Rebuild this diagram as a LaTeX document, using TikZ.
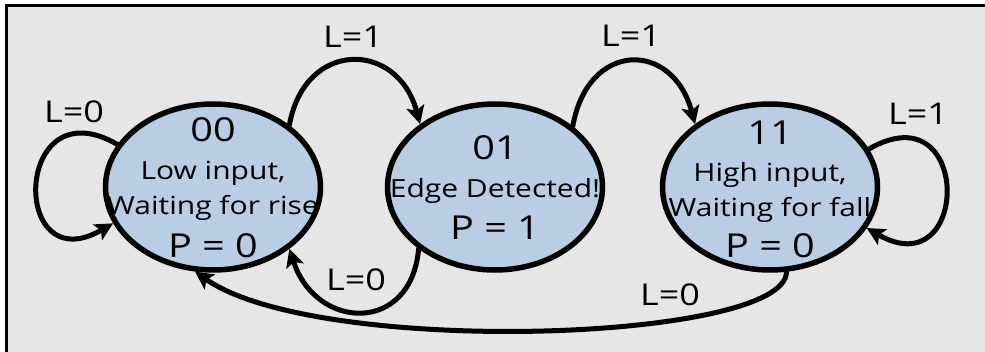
\documentclass[tikz,border=0pt]{standalone}
\usepackage{fontspec}
\setmainfont{Open Sans}[FakeStretch=1.2]
\usetikzlibrary{shapes.geometric,arrows.meta}
\definecolor{bgc}{RGB}{230,230,230}
\definecolor{statefill}{RGB}{185,205,228}
\tikzset{
  stateell/.style={ellipse, draw=black, line width=5.5pt, fill=statefill,
    minimum width=215pt, minimum height=166pt, inner sep=0pt},
  bigtxt/.style={font=\fontsize{33}{36}\selectfont, anchor=base, inner sep=0pt},
  smalltxt/.style={font=\fontsize{25}{28}\selectfont, anchor=base, inner sep=0pt},
  lbl/.style={font=\fontsize{30}{34}\selectfont, anchor=base, inner sep=0pt},
  trans/.style={line width=5pt, line cap=round,
    -{Stealth[length=18pt,width=18pt,inset=4pt]}},
}
\begin{document}
\begin{tikzpicture}[x=1pt,y=1pt]
\useasboundingbox (0,0) rectangle (985,351);
\clip (0,0) rectangle (985,351);
\fill[bgc] (5,-5) rectangle (990,347);
\draw[line width=3pt] (6.5,-10) -- (6.5,345.5) -- (995,345.5);

% states
\node[stateell] (s00) at (213,164) {};
\node[stateell] (s01) at (495,164) {};
\node[stateell] (s11) at (770,164) {};

% texts of state 00
\node[bigtxt] (t00a) at (213,209) {00};
\node[smalltxt] (t00b) at (213,171) {Low input,};
\node[smalltxt] (t00c) at (213,136) {Waiting for rise};
\node[bigtxt] (t00d) at (213,94) {P = 0};
% texts of state 01
\node[bigtxt] (t01a) at (495,191) {01};
\node[smalltxt] (t01b) at (495,153) {Edge Detected!};
\node[bigtxt] (t01c) at (495,111) {P = 1};
% texts of state 11
\node[bigtxt] (t11a) at (770,206) {11};
\node[smalltxt] (t11b) at (770,169) {High input,};
\node[smalltxt] (t11c) at (770,134) {Waiting for fall};
\node[bigtxt] (t11d) at (770,94) {P = 0};

% transitions
\draw[trans] (s00.156) .. controls +(150:120) and +(210:120) .. (s00.200);
\draw[trans] (s11.21) .. controls +(30:120) and +(-30:120) .. (s11.337);
\draw[trans] (s00.39) .. controls +(80:87) and +(105:87) .. (s01.140);
\draw[trans] (s01.38) .. controls +(80:87) and +(105:87) .. (s11.140);
\draw[trans] (s01.219) .. controls +(265:86) and +(288:86) .. (s00.321);
\draw[trans] (s11.281) .. controls +(270:70) and +(325:150) .. (s00.258);

% labels
\node[lbl] (l1) at (74,228) {L=0};
\node[lbl] (l2) at (353,303) {L=1};
\node[lbl] (l3) at (631,304) {L=1};
\node[lbl] (l4) at (918,226) {L=1};
\node[lbl] (l5) at (356,61) {L=0};
\node[lbl] (l6) at (670,46) {L=0};
\end{tikzpicture}
\end{document}
